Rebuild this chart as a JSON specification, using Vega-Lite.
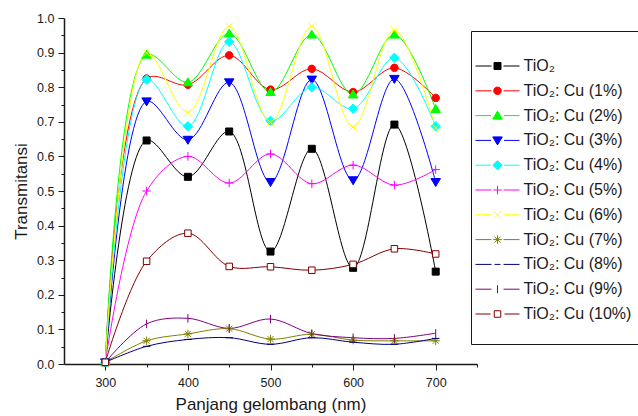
{
  "$schema": "https://vega.github.io/schema/vega-lite/v6.json",
  "width": 413,
  "height": 346,
  "autosize": {"type": "none"},
  "padding": {"left": 64, "top": 18, "right": 161, "bottom": 52},
  "config": {
    "view": {"stroke": null},
    "font": "Liberation Sans",
    "axis": {
      "labelFont": "Liberation Sans",
      "titleFont": "Liberation Sans",
      "labelColor": "#1a1a1a",
      "titleColor": "#1a1a1a",
      "domainColor": "#1a1a1a",
      "tickColor": "#1a1a1a",
      "domainWidth": 1.5,
      "tickWidth": 1,
      "grid": false,
      "labelFontSize": 12.5,
      "titleFontSize": 17,
      "titleFontWeight": "normal"
    },
    "legend": {
      "labelFont": "Liberation Sans",
      "labelFontSize": 16,
      "labelColor": "#1a1a1a"
    },
    "point": {"opacity": 1, "strokeWidth": 1, "size": 100}
  },
  "data": {
    "values": [
      {"s": "TiO₂", "x": 300, "y": 0.005}, {"s": "TiO₂", "x": 350, "y": 0.646}, {"s": "TiO₂", "x": 400, "y": 0.541}, {"s": "TiO₂", "x": 450, "y": 0.672}, {"s": "TiO₂", "x": 500, "y": 0.325}, {"s": "TiO₂", "x": 550, "y": 0.622}, {"s": "TiO₂", "x": 600, "y": 0.278}, {"s": "TiO₂", "x": 650, "y": 0.692}, {"s": "TiO₂", "x": 700, "y": 0.267},
      {"s": "TiO₂: Cu (1%)", "x": 300, "y": 0.005}, {"s": "TiO₂: Cu (1%)", "x": 350, "y": 0.825}, {"s": "TiO₂: Cu (1%)", "x": 400, "y": 0.807}, {"s": "TiO₂: Cu (1%)", "x": 450, "y": 0.892}, {"s": "TiO₂: Cu (1%)", "x": 500, "y": 0.793}, {"s": "TiO₂: Cu (1%)", "x": 550, "y": 0.853}, {"s": "TiO₂: Cu (1%)", "x": 600, "y": 0.786}, {"s": "TiO₂: Cu (1%)", "x": 650, "y": 0.856}, {"s": "TiO₂: Cu (1%)", "x": 700, "y": 0.769},
      {"s": "TiO₂: Cu (2%)", "x": 300, "y": 0.005}, {"s": "TiO₂: Cu (2%)", "x": 350, "y": 0.894}, {"s": "TiO₂: Cu (2%)", "x": 400, "y": 0.814}, {"s": "TiO₂: Cu (2%)", "x": 450, "y": 0.955}, {"s": "TiO₂: Cu (2%)", "x": 500, "y": 0.786}, {"s": "TiO₂: Cu (2%)", "x": 550, "y": 0.952}, {"s": "TiO₂: Cu (2%)", "x": 600, "y": 0.779}, {"s": "TiO₂: Cu (2%)", "x": 650, "y": 0.952}, {"s": "TiO₂: Cu (2%)", "x": 700, "y": 0.737},
      {"s": "TiO₂: Cu (3%)", "x": 300, "y": 0.005}, {"s": "TiO₂: Cu (3%)", "x": 350, "y": 0.759}, {"s": "TiO₂: Cu (3%)", "x": 400, "y": 0.648}, {"s": "TiO₂: Cu (3%)", "x": 450, "y": 0.814}, {"s": "TiO₂: Cu (3%)", "x": 500, "y": 0.526}, {"s": "TiO₂: Cu (3%)", "x": 550, "y": 0.822}, {"s": "TiO₂: Cu (3%)", "x": 600, "y": 0.531}, {"s": "TiO₂: Cu (3%)", "x": 650, "y": 0.824}, {"s": "TiO₂: Cu (3%)", "x": 700, "y": 0.526},
      {"s": "TiO₂: Cu (4%)", "x": 300, "y": 0.005}, {"s": "TiO₂: Cu (4%)", "x": 350, "y": 0.822}, {"s": "TiO₂: Cu (4%)", "x": 400, "y": 0.687}, {"s": "TiO₂: Cu (4%)", "x": 450, "y": 0.931}, {"s": "TiO₂: Cu (4%)", "x": 500, "y": 0.703}, {"s": "TiO₂: Cu (4%)", "x": 550, "y": 0.8}, {"s": "TiO₂: Cu (4%)", "x": 600, "y": 0.738}, {"s": "TiO₂: Cu (4%)", "x": 650, "y": 0.885}, {"s": "TiO₂: Cu (4%)", "x": 700, "y": 0.687},
      {"s": "TiO₂: Cu (5%)", "x": 300, "y": 0.005}, {"s": "TiO₂: Cu (5%)", "x": 350, "y": 0.5}, {"s": "TiO₂: Cu (5%)", "x": 400, "y": 0.6}, {"s": "TiO₂: Cu (5%)", "x": 450, "y": 0.523}, {"s": "TiO₂: Cu (5%)", "x": 500, "y": 0.607}, {"s": "TiO₂: Cu (5%)", "x": 550, "y": 0.521}, {"s": "TiO₂: Cu (5%)", "x": 600, "y": 0.575}, {"s": "TiO₂: Cu (5%)", "x": 650, "y": 0.517}, {"s": "TiO₂: Cu (5%)", "x": 700, "y": 0.562},
      {"s": "TiO₂: Cu (6%)", "x": 300, "y": 0.005}, {"s": "TiO₂: Cu (6%)", "x": 350, "y": 0.899}, {"s": "TiO₂: Cu (6%)", "x": 400, "y": 0.727}, {"s": "TiO₂: Cu (6%)", "x": 450, "y": 0.976}, {"s": "TiO₂: Cu (6%)", "x": 500, "y": 0.698}, {"s": "TiO₂: Cu (6%)", "x": 550, "y": 0.976}, {"s": "TiO₂: Cu (6%)", "x": 600, "y": 0.685}, {"s": "TiO₂: Cu (6%)", "x": 650, "y": 0.965}, {"s": "TiO₂: Cu (6%)", "x": 700, "y": 0.682},
      {"s": "TiO₂: Cu (7%)", "x": 300, "y": 0.005}, {"s": "TiO₂: Cu (7%)", "x": 350, "y": 0.067}, {"s": "TiO₂: Cu (7%)", "x": 400, "y": 0.087}, {"s": "TiO₂: Cu (7%)", "x": 450, "y": 0.102}, {"s": "TiO₂: Cu (7%)", "x": 500, "y": 0.072}, {"s": "TiO₂: Cu (7%)", "x": 550, "y": 0.086}, {"s": "TiO₂: Cu (7%)", "x": 600, "y": 0.069}, {"s": "TiO₂: Cu (7%)", "x": 650, "y": 0.067}, {"s": "TiO₂: Cu (7%)", "x": 700, "y": 0.067},
      {"s": "TiO₂: Cu (8%)", "x": 300, "y": 0.005}, {"s": "TiO₂: Cu (8%)", "x": 350, "y": 0.051}, {"s": "TiO₂: Cu (8%)", "x": 400, "y": 0.071}, {"s": "TiO₂: Cu (8%)", "x": 450, "y": 0.076}, {"s": "TiO₂: Cu (8%)", "x": 500, "y": 0.057}, {"s": "TiO₂: Cu (8%)", "x": 550, "y": 0.076}, {"s": "TiO₂: Cu (8%)", "x": 600, "y": 0.063}, {"s": "TiO₂: Cu (8%)", "x": 650, "y": 0.057}, {"s": "TiO₂: Cu (8%)", "x": 700, "y": 0.074},
      {"s": "TiO₂: Cu (9%)", "x": 300, "y": 0.005}, {"s": "TiO₂: Cu (9%)", "x": 350, "y": 0.116}, {"s": "TiO₂: Cu (9%)", "x": 400, "y": 0.132}, {"s": "TiO₂: Cu (9%)", "x": 450, "y": 0.103}, {"s": "TiO₂: Cu (9%)", "x": 500, "y": 0.13}, {"s": "TiO₂: Cu (9%)", "x": 550, "y": 0.088}, {"s": "TiO₂: Cu (9%)", "x": 600, "y": 0.076}, {"s": "TiO₂: Cu (9%)", "x": 650, "y": 0.074}, {"s": "TiO₂: Cu (9%)", "x": 700, "y": 0.089},
      {"s": "TiO₂: Cu (10%)", "x": 300, "y": 0.005}, {"s": "TiO₂: Cu (10%)", "x": 350, "y": 0.297}, {"s": "TiO₂: Cu (10%)", "x": 400, "y": 0.378}, {"s": "TiO₂: Cu (10%)", "x": 450, "y": 0.282}, {"s": "TiO₂: Cu (10%)", "x": 500, "y": 0.281}, {"s": "TiO₂: Cu (10%)", "x": 550, "y": 0.271}, {"s": "TiO₂: Cu (10%)", "x": 600, "y": 0.288}, {"s": "TiO₂: Cu (10%)", "x": 650, "y": 0.333}, {"s": "TiO₂: Cu (10%)", "x": 700, "y": 0.318}
    ]
  },
  "encoding": {
    "x": {
      "field": "x", "type": "quantitative",
      "scale": {"domain": [250, 750], "nice": false, "zero": false},
      "axis": {
        "title": "Panjang gelombang (nm)",
        "values": [300, 350, 400, 450, 500, 550, 600, 650, 700, 750],
        "labelExpr": "datum.value % 100 === 0 ? datum.label : ''",
        "tickSize": {"condition": {"test": "datum.value % 100 === 0", "value": 6}, "value": 3},
        "labelPadding": 6,
        "titlePadding": 8,
        "labelFlush": false
      }
    },
    "y": {
      "field": "y", "type": "quantitative",
      "scale": {"domain": [0, 1], "nice": false},
      "axis": {
        "title": "Transmitansi",
        "values": [0, 0.05, 0.1, 0.15, 0.2, 0.25, 0.3, 0.35, 0.4, 0.45, 0.5, 0.55, 0.6, 0.65, 0.7, 0.75, 0.8, 0.85, 0.9, 0.95, 1.0],
        "labelExpr": "round(datum.value * 20) % 2 === 0 ? format(datum.value, '.1f') : ''",
        "tickSize": {"condition": {"test": "round(datum.value * 20) % 2 === 0", "value": 6}, "value": 3},
        "labelPadding": 4,
        "titlePadding": 6,
        "labelFlush": false
      }
    }
  },
  "layer": [
    {
      "mark": {"type": "line", "interpolate": "catmull-rom", "strokeWidth": 1},
      "encoding": {
        "stroke": {
          "field": "s", "type": "nominal",
          "scale": {
            "domain": ["TiO₂", "TiO₂: Cu (1%)", "TiO₂: Cu (2%)", "TiO₂: Cu (3%)", "TiO₂: Cu (4%)", "TiO₂: Cu (5%)", "TiO₂: Cu (6%)", "TiO₂: Cu (7%)", "TiO₂: Cu (8%)", "TiO₂: Cu (9%)", "TiO₂: Cu (10%)"],
            "range": ["#000000", "#FF0000", "#00FF00", "#0000FF", "#00FFFF", "#FF00FF", "#FFFF00", "#808000", "#000080", "#800080", "#800000"]
          },
          "legend": {
            "orient": "none", "legendX": 407, "legendY": 13,
            "title": " ", "titleFontSize": 1, "titlePadding": 5,
            "padding": 21, "rowPadding": 8.8, "symbolSize": 100, "labelOffset": 18, "symbolOffset": -2.5,
            "strokeColor": "#1a1a1a", "symbolStrokeWidth": 1, "symbolOpacity": 1
          }
        }
      }
    },
    {
      "transform": [{"filter": "false"}],
      "mark": {"type": "point"},
      "encoding": {
        "stroke": {
          "field": "s", "type": "nominal",
          "scale": {
            "domain": ["TiO₂", "TiO₂: Cu (1%)", "TiO₂: Cu (2%)", "TiO₂: Cu (3%)", "TiO₂: Cu (4%)", "TiO₂: Cu (5%)", "TiO₂: Cu (6%)", "TiO₂: Cu (7%)", "TiO₂: Cu (8%)", "TiO₂: Cu (9%)", "TiO₂: Cu (10%)"],
            "range": ["#000000", "#FF0000", "#00FF00", "#0000FF", "#00FFFF", "#FF00FF", "#FFFF00", "#808000", "#000080", "#800080", "#800000"]
          },
          "legend": {
            "orient": "none", "legendX": 407, "legendY": 13,
            "title": " ", "titleFontSize": 1, "titlePadding": 5,
            "padding": 21, "rowPadding": 8.8, "symbolSize": 100, "labelOffset": 18, "symbolOffset": -2.5,
            "strokeColor": "#1a1a1a", "symbolStrokeWidth": 1, "symbolOpacity": 1
          }
        },
        "fill": {
          "field": "s", "type": "nominal",
          "scale": {
            "domain": ["TiO₂", "TiO₂: Cu (1%)", "TiO₂: Cu (2%)", "TiO₂: Cu (3%)", "TiO₂: Cu (4%)", "TiO₂: Cu (5%)", "TiO₂: Cu (6%)", "TiO₂: Cu (7%)", "TiO₂: Cu (8%)", "TiO₂: Cu (9%)", "TiO₂: Cu (10%)"],
            "range": ["#000000", "#FF0000", "#00FF00", "#0000FF", "#00FFFF", "#FF00FF", "#FFFF00", "#808000", "#000080", "#800080", "#FFFFFF"]
          },
          "legend": {
            "orient": "none", "legendX": 407, "legendY": 13,
            "title": " ", "titleFontSize": 1, "titlePadding": 5,
            "padding": 21, "rowPadding": 8.8, "symbolSize": 100, "labelOffset": 18, "symbolOffset": -2.5,
            "strokeColor": "#1a1a1a", "symbolStrokeWidth": 1, "symbolOpacity": 1
          }
        },
        "shape": {
          "field": "s", "type": "nominal",
          "scale": {
            "domain": ["TiO₂", "TiO₂: Cu (1%)", "TiO₂: Cu (2%)", "TiO₂: Cu (3%)", "TiO₂: Cu (4%)", "TiO₂: Cu (5%)", "TiO₂: Cu (6%)", "TiO₂: Cu (7%)", "TiO₂: Cu (8%)", "TiO₂: Cu (9%)", "TiO₂: Cu (10%)"],
            "range": ["M-4.4,0H-1.2M1.2,0H4.4M-0.7,-0.7H0.7V0.7H-0.7Z", "M-4.4,0H-1.2M1.2,0H4.4M0.75,0A0.75,0.75,0,1,1,-0.75,0A0.75,0.75,0,1,1,0.75,0Z", "M-4.4,0H-1.3M1.3,0H4.4M0,-0.9L0.95,0.7H-0.95Z", "M-4.4,0H-1.3M1.3,0H4.4M0,0.9L0.95,-0.7H-0.95Z", "M-4.4,0H-1.3M1.3,0H4.4M0,-0.95L0.95,0L0,0.95L-0.95,0Z", "M-4.4,0H-1.2M1.2,0H4.4M-0.85,0H0.85M0,-0.85V0.85", "M-4.4,0H-1.2M1.2,0H4.4M-0.75,-0.75L0.75,0.75M-0.75,0.75L0.75,-0.75", "M-4.4,0H-1.2M1.2,0H4.4M-0.85,0H0.85M0,-0.85V0.85M-0.6,-0.6L0.6,0.6M-0.6,0.6L0.6,-0.6", "M-4.4,0H-1.2M1.2,0H4.4M-0.6,0H0.6", "M-4.4,0H-1.2M1.2,0H4.4M0,-0.8V0.8", "M-4.4,0H-1.4M1.4,0H4.4M-0.65,-0.65H0.65V0.65H-0.65Z"]
          },
          "legend": {
            "orient": "none", "legendX": 407, "legendY": 13,
            "title": " ", "titleFontSize": 1, "titlePadding": 5,
            "padding": 21, "rowPadding": 8.8, "symbolSize": 100, "labelOffset": 18, "symbolOffset": -2.5,
            "strokeColor": "#1a1a1a", "symbolStrokeWidth": 1, "symbolOpacity": 1
          }
        }
      }
    },
    {"transform": [{"filter": {"field": "s", "equal": "TiO₂"}}], "mark": {"type": "point", "shape": "M-0.7,-0.7H0.7V0.7H-0.7Z", "fill": "#000000", "stroke": "#000000"}},
    {"transform": [{"filter": {"field": "s", "equal": "TiO₂: Cu (1%)"}}], "mark": {"type": "point", "shape": "M0.75,0A0.75,0.75,0,1,1,-0.75,0A0.75,0.75,0,1,1,0.75,0Z", "fill": "#FF0000", "stroke": "#FF0000"}},
    {"transform": [{"filter": {"field": "s", "equal": "TiO₂: Cu (2%)"}}], "mark": {"type": "point", "shape": "M0,-0.9L0.95,0.7H-0.95Z", "fill": "#00FF00", "stroke": "#00FF00"}},
    {"transform": [{"filter": {"field": "s", "equal": "TiO₂: Cu (3%)"}}], "mark": {"type": "point", "shape": "M0,0.9L0.95,-0.7H-0.95Z", "fill": "#0000FF", "stroke": "#0000FF"}},
    {"transform": [{"filter": {"field": "s", "equal": "TiO₂: Cu (4%)"}}], "mark": {"type": "point", "shape": "M0,-0.95L0.95,0L0,0.95L-0.95,0Z", "fill": "#00FFFF", "stroke": "#00FFFF"}},
    {"transform": [{"filter": {"field": "s", "equal": "TiO₂: Cu (5%)"}}], "mark": {"type": "point", "shape": "M-0.85,0H0.85M0,-0.85V0.85", "fill": "transparent", "stroke": "#FF00FF"}},
    {"transform": [{"filter": {"field": "s", "equal": "TiO₂: Cu (6%)"}}], "mark": {"type": "point", "shape": "M-0.75,-0.75L0.75,0.75M-0.75,0.75L0.75,-0.75", "fill": "transparent", "stroke": "#FFFF00"}},
    {"transform": [{"filter": {"field": "s", "equal": "TiO₂: Cu (7%)"}}], "mark": {"type": "point", "shape": "M-0.85,0H0.85M0,-0.85V0.85M-0.6,-0.6L0.6,0.6M-0.6,0.6L0.6,-0.6", "fill": "transparent", "stroke": "#808000"}},
    {"transform": [{"filter": {"field": "s", "equal": "TiO₂: Cu (8%)"}}], "mark": {"type": "point", "shape": "M-0.75,0H0.75", "fill": "transparent", "stroke": "#000080"}},
    {"transform": [{"filter": {"field": "s", "equal": "TiO₂: Cu (9%)"}}], "mark": {"type": "point", "shape": "M0,-0.85V0.85", "fill": "transparent", "stroke": "#800080"}},
    {"transform": [{"filter": {"field": "s", "equal": "TiO₂: Cu (10%)"}}], "mark": {"type": "point", "shape": "M-0.65,-0.65H0.65V0.65H-0.65Z", "fill": "#FFFFFF", "stroke": "#800000"}}
  ]
}
